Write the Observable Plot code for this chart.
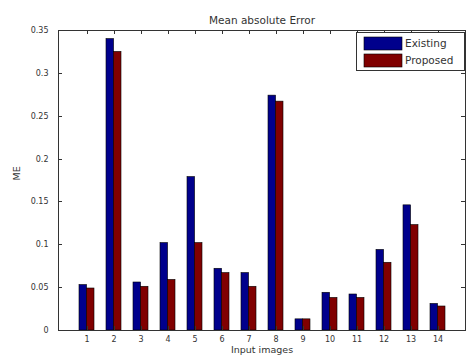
<!DOCTYPE html>
<html>
<head>
<meta charset="utf-8">
<script src="https://cdn.jsdelivr.net/npm/d3@7"></script>
<script src="https://cdn.jsdelivr.net/npm/@observablehq/plot@0.6"></script>
<style>
  html, body { margin: 0; padding: 0; background: #fff; }
  #chart { position: relative; width: 468px; height: 361px; }
  #chart svg { font-family: "DejaVu Sans", sans-serif; }
</style>
</head>
<body>
<div id="chart"></div>
<script>
// ---- data ----
const images = ["1","2","3","4","5","6","7","8","9","10","11","12","13","14"];
const existing = [0.053, 0.340, 0.056, 0.102, 0.179, 0.072, 0.067, 0.274, 0.013, 0.044, 0.042, 0.094, 0.146, 0.031];
const proposed = [0.049, 0.325, 0.051, 0.059, 0.102, 0.067, 0.051, 0.267, 0.013, 0.038, 0.038, 0.079, 0.123, 0.028];
const yTicks = [0, 0.05, 0.1, 0.15, 0.2, 0.25, 0.3, 0.35];
const seriesNames = ["Existing", "Proposed"];
const seriesColors = ["#00008c", "#800000"];
const titleText = "Mean absolute Error";
const xLabel = "Input images";
const yLabel = "ME";

const rowsE = images.map((k, i) => ({image: k, value: existing[i]}));
const rowsP = images.map((k, i) => ({image: k, value: proposed[i]}));

const textColor = "#333";
const fmt = d => String(+d.toFixed(2));

const W = 468, H = 361, mL = 58, mR = 3, mT = 30, mB = 31;

const plot = Plot.plot({
  width: W,
  height: H,
  marginLeft: mL,
  marginRight: mR,
  marginTop: mT,
  marginBottom: mB,
  style: {background: "#fff", color: textColor, fontFamily: "DejaVu Sans, sans-serif"},
  x: {type: "band", domain: images, paddingInner: 0.45, paddingOuter: 0.725, axis: null},
  y: {domain: [0, 0.35], axis: null},
  marks: [
    Plot.barY(rowsE, {x: "image", y: "value", fill: seriesColors[0], stroke: "#000", strokeWidth: 0.6, insetRight: 7.45}),
    Plot.barY(rowsP, {x: "image", y: "value", fill: seriesColors[1], stroke: "#000", strokeWidth: 0.6, insetLeft: 7.45}),
    Plot.frame({stroke: "#333", strokeWidth: 1}),
    // tick labels
    Plot.axisX({anchor: "bottom", tickSize: 0, tickPadding: 6, fontSize: 8, label: null}),
    Plot.axisY({anchor: "left", ticks: yTicks, tickFormat: fmt, tickSize: 0, tickPadding: 10, fontSize: 8, label: null}),
    // titles
    Plot.text([titleText], {frameAnchor: "top", dy: -14, fontSize: 10.5, fill: textColor}),
    Plot.text([xLabel], {frameAnchor: "bottom", dy: 22, fontSize: 9.5, fill: textColor}),
    Plot.text([yLabel], {frameAnchor: "left", dx: -42, rotate: -90, fontSize: 9.5, fill: textColor})
  ]
});
document.getElementById("chart").appendChild(plot);

const svg = d3.select(plot);

// inward tick marks on all four sides, positioned with Plot's own scales
const xs = plot.scale("x"), ys = plot.scale("y");
const tk = svg.append("g").attr("stroke", "#333").attr("stroke-width", 1);
const tickLen = 4, fLeft = mL, fRight = W - mR, fTop = mT, fBottom = H - mB;
images.forEach(k => {
  const x = Math.round(xs.apply(k) + xs.bandwidth / 2) + 0.5;
  tk.append("line").attr("x1", x).attr("x2", x).attr("y1", fBottom).attr("y2", fBottom - tickLen);
  tk.append("line").attr("x1", x).attr("x2", x).attr("y1", fTop).attr("y2", fTop + tickLen);
});
yTicks.forEach(v => {
  const y = Math.round(ys.apply(v)) + 0.5;
  tk.append("line").attr("x1", fLeft).attr("x2", fLeft + tickLen).attr("y1", y).attr("y2", y);
  tk.append("line").attr("x1", fRight).attr("x2", fRight - tickLen).attr("y1", y).attr("y2", y);
});

// legend box (top-right inside the axes)
const lg = svg.append("g").attr("font-family", "DejaVu Sans, sans-serif").attr("text-anchor", "start");
lg.append("rect").attr("x", 356.5).attr("y", 32.5).attr("width", 108).attr("height", 38)
  .attr("fill", "#fff").attr("stroke", "#333").attr("stroke-width", 1);
seriesNames.forEach((name, i) => {
  const y0 = 37 + i * 17;
  lg.append("rect").attr("x", 364).attr("y", y0).attr("width", 38).attr("height", 13)
    .attr("fill", seriesColors[i]).attr("stroke", "#000").attr("stroke-width", 0.6);
  lg.append("text").attr("x", 405).attr("y", y0 + 6.5).attr("dy", "0.35em")
    .attr("font-size", 10.5).attr("fill", textColor).text(name);
});
</script>
</body>
</html>
